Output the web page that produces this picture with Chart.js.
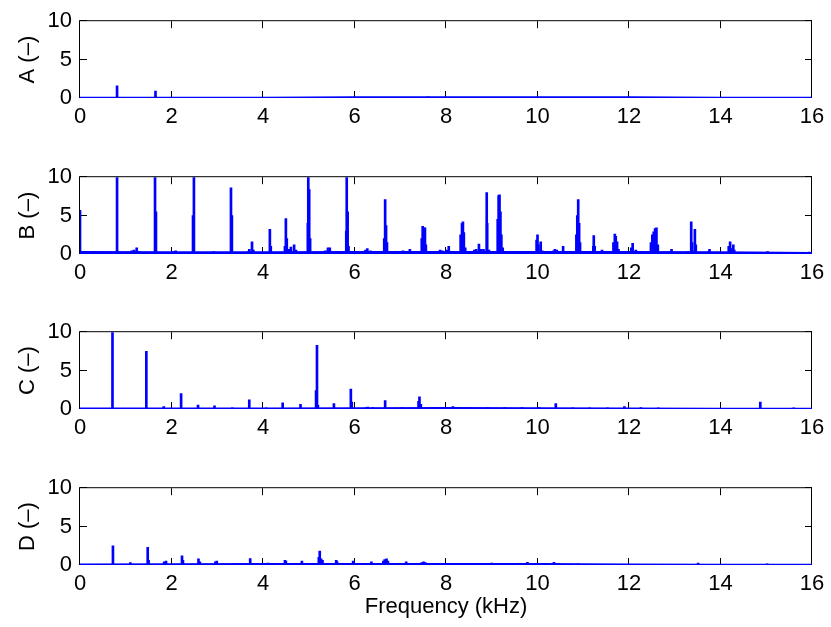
<!DOCTYPE html>
<html>
<head>
<meta charset="utf-8">
<title>Spectra</title>
<script src="https://cdn.jsdelivr.net/npm/chart.js@4.4.1/dist/chart.umd.min.js"></script>
<style>
   html, body { margin: 0; padding: 0; background: #fff; overflow: hidden; }
   .plot { position: absolute; left: 0; }
</style>
</head>
<body>
<canvas id="plotA" class="plot" width="831" height="156" style="top:0px"></canvas>
<canvas id="plotB" class="plot" width="831" height="155" style="top:156px"></canvas>
<canvas id="plotC" class="plot" width="831" height="156" style="top:311px"></canvas>
<canvas id="plotD" class="plot" width="831" height="160" style="top:467px"></canvas>
<script>
// axis ticks
const freqTicks = [0, 2, 4, 6, 8, 10, 12, 14, 16];
const ampTicks = [0, 5, 10];

// noise floor, sampled every 2 kHz
const floorFreq = [0, 2, 4, 6, 8, 10, 12, 14, 16];
const floorA = [0.08, 0.08, 0.08, 0.12, 0.14, 0.14, 0.12, 0.08, 0.06];
const floorB = [0.3, 0.25, 0.25, 0.3, 0.3, 0.3, 0.3, 0.25, 0.15];
const floorC = [0.1, 0.1, 0.1, 0.12, 0.15, 0.12, 0.1, 0.08, 0.06];
const floorD = [0.1, 0.12, 0.15, 0.15, 0.15, 0.15, 0.1, 0.08, 0.06];

// spectral peaks (kHz / amplitude), peaks above 10 run off the top
const freqA = [0.81, 1.65, 2.50, 5.80, 7.60, 10.0];
const ampA = [1.6, 0.9, 0.1, 0.1, 0.15, 0.1];

const freqB = [
   0.00, 0.47, 0.81, 1.13, 1.18, 1.24, 1.29, 1.64, 1.66, 2.04, 2.09, 2.14,
   2.47, 2.49, 2.87, 2.92, 3.30, 3.32, 3.67, 3.70, 3.76, 3.79, 4.15, 4.17,
   4.48, 4.50, 4.52, 4.57, 4.61, 4.68, 4.72, 4.98, 4.99, 5.01, 5.03, 5.36,
   5.42, 5.46, 5.51, 5.82, 5.83, 5.85, 5.87, 6.18, 6.24, 6.28, 6.35, 6.65,
   6.67, 6.69, 6.71, 7.00, 7.06, 7.14, 7.21, 7.47, 7.49, 7.52, 7.54, 7.56,
   7.80, 7.87, 7.92, 8.02, 8.06, 8.32, 8.35, 8.37, 8.39, 8.42, 8.55, 8.62,
   8.66, 8.72, 8.77, 8.82, 8.89, 8.90, 8.94, 9.13, 9.15, 9.17, 9.19, 9.21,
   9.24, 9.50, 9.55, 9.61, 9.98, 10.00, 10.02, 10.07, 10.10, 10.35, 10.38, 10.42,
   10.56, 10.85, 10.87, 10.89, 10.91, 10.93, 11.22, 11.23, 11.25, 11.41, 11.56, 11.66,
   11.69, 11.71, 11.74, 11.77, 12.05, 12.08, 12.15, 12.24, 12.48, 12.51, 12.54, 12.57,
   12.60, 12.63, 12.90, 12.93, 13.28, 13.36, 13.38, 13.44, 13.46, 13.73, 13.76, 14.18,
   14.21, 14.25, 14.28, 14.30, 14.60, 15.03, 15.08, 15.94
];
const ampB = [
   5.7, 0.2, 12, 0.4, 0.5, 0.8, 0.3, 12, 5.5, 0.3, 0.4, 0.2,
   5.0, 12, 0.15, 0.3, 8.6, 5.0, 0.3, 0.6, 1.6, 0.5, 3.2, 1.0,
   1.0, 4.6, 2.0, 0.6, 0.9, 1.2, 0.5, 4.0, 12, 8.4, 2.0, 0.4,
   0.8, 0.8, 0.3, 3.0, 12, 5.5, 1.0, 0.3, 0.5, 0.7, 0.4, 2.0,
   7.1, 3.7, 1.5, 0.3, 0.4, 0.3, 0.6, 2.0, 3.6, 3.4, 3.4, 1.2,
   0.3, 0.5, 0.4, 0.5, 1.0, 2.5, 4.0, 4.2, 2.8, 0.8, 0.3, 0.5,
   0.6, 1.3, 0.6, 0.6, 8.0, 4.0, 0.5, 4.5, 7.6, 7.7, 5.5, 2.5,
   0.8, 0.2, 0.3, 0.2, 1.8, 2.5, 1.2, 1.6, 0.4, 0.4, 0.6, 0.5,
   1.0, 2.5, 5.0, 7.1, 4.0, 1.5, 1.0, 2.4, 1.0, 0.5, 0.3, 1.5,
   2.6, 2.3, 1.6, 0.6, 0.8, 1.4, 0.5, 0.3, 1.5, 2.5, 2.9, 3.3,
   3.4, 1.2, 0.3, 0.6, 0.3, 4.2, 1.5, 3.2, 1.2, 0.3, 0.6, 1.0,
   1.6, 0.7, 1.2, 0.5, 0.12, 0.3, 0.2, 0.25
];

const freqC = [
   0.71, 1.08, 1.45, 1.83, 2.21, 2.58, 2.94, 3.33, 3.70, 4.07, 4.43, 4.82,
   5.16, 5.18, 5.20, 5.55, 5.92, 5.94, 6.25, 6.29, 6.40, 6.67, 7.04, 7.40,
   7.42, 7.45, 7.60, 7.80, 8.15, 8.53, 8.91, 9.28, 9.66, 10.04, 10.40, 10.77,
   11.14, 11.53, 11.90, 12.26, 12.64, 14.00, 14.87, 15.60
];
const ampC = [
   12, 0.1, 7.5, 0.3, 2.0, 0.5, 0.4, 0.15, 1.2, 0.15, 0.8, 0.6,
   2.4, 8.3, 0.5, 0.7, 2.6, 0.9, 0.2, 0.25, 0.2, 1.1, 0.2, 1.0,
   1.6, 0.6, 0.2, 0.2, 0.3, 0.2, 0.2, 0.2, 0.2, 0.2, 0.7, 0.15,
   0.15, 0.15, 0.3, 0.2, 0.15, 0.1, 0.9, 0.15
];

const freqD = [
   0.72, 1.10, 1.48, 1.50, 1.84, 1.88, 2.23, 2.25, 2.59, 2.62, 2.96, 2.99,
   3.35, 3.72, 4.11, 4.48, 4.50, 4.85, 5.22, 5.24, 5.27, 5.30, 5.60, 5.62,
   5.97, 6.37, 6.63, 6.66, 6.70, 6.73, 7.13, 7.47, 7.51, 7.55, 7.87, 8.56,
   8.60, 9.00, 9.37, 9.45, 9.78, 10.10, 10.20, 10.36, 10.45, 10.89, 13.51, 15.02
];
const ampD = [
   2.5, 0.3, 2.3, 0.6, 0.4, 0.5, 1.2, 0.6, 0.8, 0.4, 0.4, 0.5,
   0.1, 0.85, 0.25, 0.6, 0.5, 0.5, 1.0, 1.8, 0.8, 0.6, 0.6, 0.4,
   0.5, 0.4, 0.5, 0.7, 0.8, 0.5, 0.4, 0.3, 0.4, 0.3, 0.1, 0.15,
   0.15, 0.25, 0.15, 0.15, 0.35, 0.2, 0.2, 0.35, 0.2, 0.15, 0.25, 0.15
];

const BLUE = '#0000ff';
const FONT = { family: '"Liberation Sans", Arial, Helvetica, sans-serif', size: 22 };

// matlab style box with inward ticks on all four sides
const boxTicks = {
   id: 'boxTicks',
   beforeDatasetsDraw(chart) {
      const { ctx, chartArea: a, scales: { x, y } } = chart;
      const len = 7;
      ctx.save();
      ctx.strokeStyle = '#000';
      ctx.lineWidth = 1;
      ctx.beginPath();
      freqTicks.forEach(v => {
         const px = Math.round(x.getPixelForValue(v)) - 0.5;
         ctx.moveTo(px, a.bottom); ctx.lineTo(px, a.bottom - len);
         ctx.moveTo(px, a.top); ctx.lineTo(px, a.top + len);
      });
      ampTicks.forEach(v => {
         const py = Math.round(y.getPixelForValue(v)) - 0.5;
         ctx.moveTo(a.left, py); ctx.lineTo(a.left + len, py);
         ctx.moveTo(a.right, py); ctx.lineTo(a.right - len, py);
      });
      ctx.stroke();
      ctx.strokeRect(a.left - 0.5, a.top - 0.5, a.width, a.height);
      ctx.restore();
   }
};

function makePlot(id, name, freqs, amps, floor, showXTitle) {
   const canvas = document.getElementById(id);
   const axisHeight = canvas.height - 98;

   return new Chart(canvas, {
      type: 'bar',
      data: {
         datasets: [{
            data: freqs.map((f, i) => ({ x: f, y: amps[i] })),
            backgroundColor: BLUE,
            borderWidth: 0,
            barThickness: 2,
            clip: 0,
            order: 1
         }, {
            type: 'line',
            data: floorFreq.map((f, i) => ({ x: f, y: floor[i] })),
            borderColor: BLUE,
            backgroundColor: BLUE,
            borderWidth: 1.5,
            pointRadius: 0,
            fill: 'origin',
            tension: 0,
            clip: 0,
            order: 2
         }]
      },
      options: {
         responsive: false,
         animation: false,
         events: [],
         layout: { padding: { top: 18, right: 19, bottom: 0, left: 0 } },
         plugins: {
            legend: { display: false },
            tooltip: { enabled: false }
         },
         scales: {
            x: {
               type: 'linear',
               min: 0,
               max: 16,
               offset: false,
               grid: { display: false, drawTicks: false },
               border: { display: false },
               afterBuildTicks: s => { s.ticks = freqTicks.map(v => ({ value: v })); },
               ticks: { color: '#000', font: FONT, padding: 6, maxRotation: 0, autoSkip: false },
               title: {
                  display: showXTitle,
                  text: 'Frequency (kHz)',
                  color: '#000',
                  font: FONT,
                  padding: { top: 0, bottom: 7 }
               },
               afterFit: s => { s.height = axisHeight; }
            },
            y: {
               min: 0,
               max: 10,
               grid: { display: false, drawTicks: false },
               border: { display: false },
               afterBuildTicks: s => { s.ticks = ampTicks.map(v => ({ value: v })); },
               ticks: { color: '#000', font: FONT, padding: 8 },
               title: {
                  display: true,
                  text: name + ' (\u2013)',
                  color: '#000',
                  font: FONT,
                  padding: { top: 15, bottom: 0 }
               },
               afterFit: s => { s.width = 80; }
            }
         }
      },
      plugins: [boxTicks]
   });
}

document.addEventListener('DOMContentLoaded', () => {
   makePlot('plotA', 'A', freqA, ampA, floorA, false);
   makePlot('plotB', 'B', freqB, ampB, floorB, false);
   makePlot('plotC', 'C', freqC, ampC, floorC, false);
   makePlot('plotD', 'D', freqD, ampD, floorD, true);
});
</script>
</body>
</html>
